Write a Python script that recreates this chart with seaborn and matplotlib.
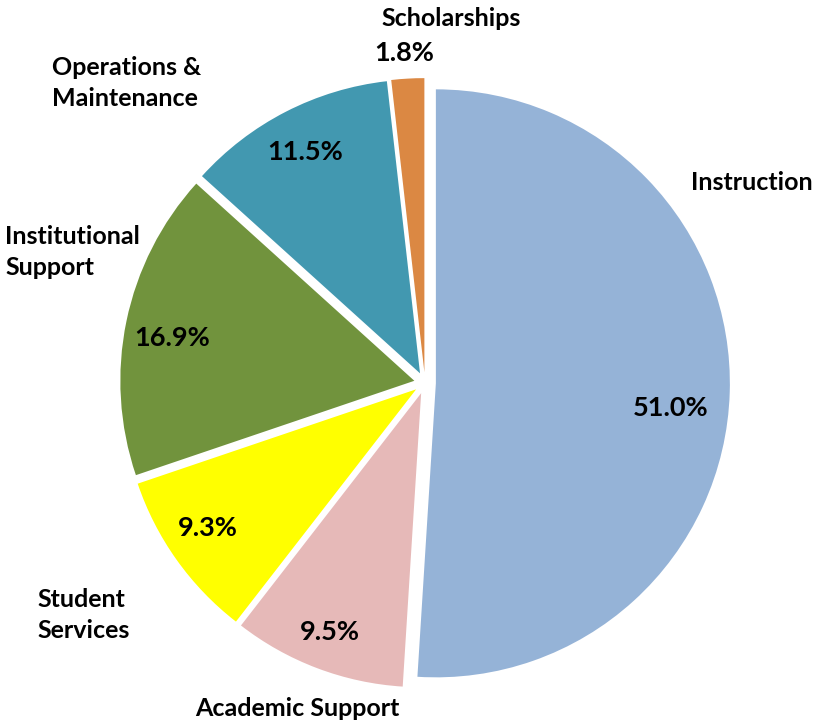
import seaborn as sns
import matplotlib.pyplot as plt

# data
categories = ['Instruction', 'Academic Support', 'Student Services',
              'Institutional Support', 'Operations & Maintenance', 'Scholarships']
shares = [51.0, 9.5, 9.3, 16.9, 11.5, 1.8]
colors = ['#95B3D7', '#E6B9B8', '#FFFF00', '#71933D', '#4298B0', '#DB8843']

# label text as shown on the chart (line breaks included)
label_text = ['Instruction', 'Academic Support', 'Student\nServices',
              'Institutional\nSupport', 'Operations &\nMaintenance', 'Scholarships']

# label placement in figure pixels (from top-left) + alignment
label_pos = [(752, 183, 'center'), (297, 708, 'center'), (37, 615, 'left'),
             (5, 252, 'left'), (52, 83, 'left'), (451, 18, 'center')]
pct_pos = [(671, 408), (330, 632), (208, 528), (172, 338), (305, 152), (404, 53)]

sns.set_theme(style='white')
plt.rcParams['font.family'] = ['Lato', 'DejaVu Sans']

W, H = 819, 722
fig = plt.figure(figsize=(W / 100, H / 100), dpi=100)
ax = fig.add_axes([0, 0, 1, 1])

# pie centre at (425, 383) px, radius 294 px
cx, cy, r = 425, 383, 294
ax.pie(shares, colors=colors, startangle=90, counterclock=False,
       explode=[0.037] * len(shares), radius=1,
       wedgeprops=dict(linewidth=0))
ax.set_xlim(-cx / r, (W - cx) / r)
ax.set_ylim(-(H - cy) / r, cy / r)
ax.set_aspect('auto')
ax.axis('off')

for txt, (px, py, ha) in zip(label_text, label_pos):
    fig.text(px / W, 1 - py / H, txt, ha=ha, va='center', fontsize=18,
             fontweight='bold', color='black', linespacing=1.45)

for val, (px, py) in zip(shares, pct_pos):
    fig.text(px / W, 1 - py / H, f'{val:.1f}%', ha='center', va='center',
             fontsize=19.5, fontweight='bold', color='black')

fig.savefig('out.png', dpi=100)
